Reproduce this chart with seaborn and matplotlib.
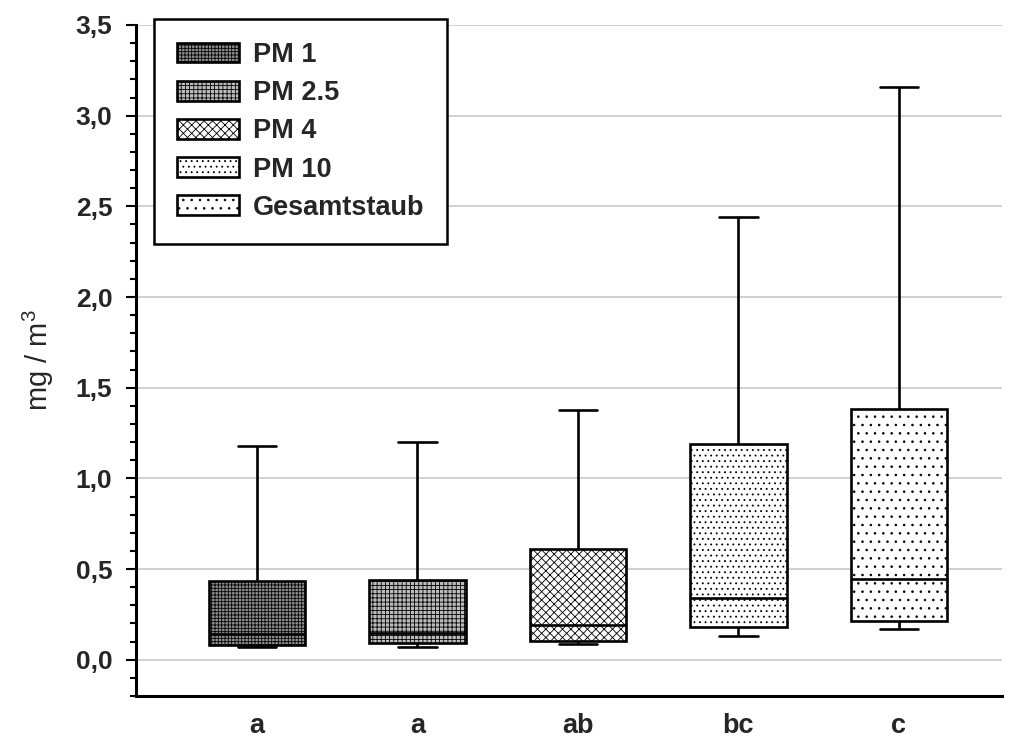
import numpy as np
import pandas as pd
import matplotlib
matplotlib.use("Agg")
import matplotlib.pyplot as plt
import seaborn as sns
from matplotlib.patches import Patch
from matplotlib.ticker import MultipleLocator, FuncFormatter

# ---- data ----
groups = ["PM 1", "PM 2.5", "PM 4", "PM 10", "Gesamtstaub"]
letters = ["a", "a", "ab", "bc", "c"]
whisker_low = [0.070, 0.072, 0.085, 0.132, 0.168]
q1 = [0.083, 0.090, 0.105, 0.180, 0.215]
median = [0.142, 0.147, 0.190, 0.342, 0.446]
q3 = [0.435, 0.441, 0.612, 1.192, 1.380]
whisker_high = [1.180, 1.200, 1.378, 2.440, 3.157]
ylabel = "mg / m$^{3}$"

# ---- styles ----
facecolors = ["#8e8e8e", "#bcbcbc", "white", "white", "white"]
hatches = ["+++++", "++++", "xxxx", "...", ".."]

sns.set_theme(style="white")
plt.rcParams["font.family"] = ["Liberation Sans", "DejaVu Sans"]
plt.rcParams["mathtext.fontset"] = "custom"
plt.rcParams["mathtext.rm"] = "Liberation Sans"
plt.rcParams["mathtext.it"] = "Liberation Sans"
plt.rcParams["mathtext.bf"] = "Liberation Sans:bold"
plt.rcParams["hatch.linewidth"] = 0.6

# long-form table: five values per group whose quartiles equal the summary values
rows = []
for g, lo, a, m, b, hi in zip(groups, whisker_low, q1, median, q3, whisker_high):
    for v in (lo, a, m, b, hi):
        rows.append({"group": g, "value": v})
df = pd.DataFrame(rows)

fig = plt.figure(figsize=(10.11, 7.40), dpi=100)
ax = fig.add_axes([136 / 1011, 44 / 740, 866 / 1011, 671 / 740])

sns.boxplot(data=df, x="group", y="value", order=groups, width=0.6,
            whis=(0, 100), color="white", linecolor="black", linewidth=1.9,
            fliersize=0, capwidths=0.24, ax=ax)

for patch, fc, h in zip(ax.patches, facecolors, hatches):
    patch.set_facecolor(fc)
    patch.set_edgecolor("black")
    patch.set_hatch(h)

ax.set_xlim(-0.754, 4.642)
ax.set_ylim(-0.2, 3.5)
ax.yaxis.set_major_locator(MultipleLocator(0.5))
ax.yaxis.set_minor_locator(MultipleLocator(0.1))
ax.yaxis.set_major_formatter(FuncFormatter(lambda v, p: f"{v:.1f}".replace(".", ",")))
ax.yaxis.grid(True, which="major", color="#c8c8c8", linewidth=1.2)
ax.set_axisbelow(True)

ax.set_xticks(range(len(groups)))
ax.set_xticklabels(letters)
ax.set_xlabel("")
ax.set_ylabel(ylabel, fontsize=21)
ax.yaxis.set_label_coords(-0.092, 0.5)

for s in ("top", "right"):
    ax.spines[s].set_visible(False)
for s in ("left", "bottom"):
    ax.spines[s].set_linewidth(2.2)
    ax.spines[s].set_color("black")

ax.tick_params(axis="y", which="major", direction="out", length=7, width=1.5,
               color="black", left=True, pad=10, labelsize=19)
ax.tick_params(axis="y", which="minor", direction="out", length=4.5, width=1.5,
               color="black", left=True)
ax.tick_params(axis="x", length=0, pad=12, labelsize=19.5)
for lab in ax.get_xticklabels() + ax.get_yticklabels():
    lab.set_fontweight("bold")

handles = [Patch(facecolor=fc, edgecolor="black", hatch=h, linewidth=1.9, label=g)
           for g, fc, h in zip(groups, facecolors, hatches)]
leg = ax.legend(handles=handles, loc="upper left", bbox_to_anchor=(0.0208, 1.009),
                borderaxespad=0, frameon=True, fancybox=False, framealpha=1,
                handlelength=2.3, handleheight=0.75, handletextpad=0.5,
                labelspacing=0.45, borderpad=0.85,
                prop={"weight": "bold", "size": 19.5})
leg.get_frame().set_edgecolor("black")
leg.get_frame().set_linewidth(1.8)

fig.savefig("out.png", dpi=100)
